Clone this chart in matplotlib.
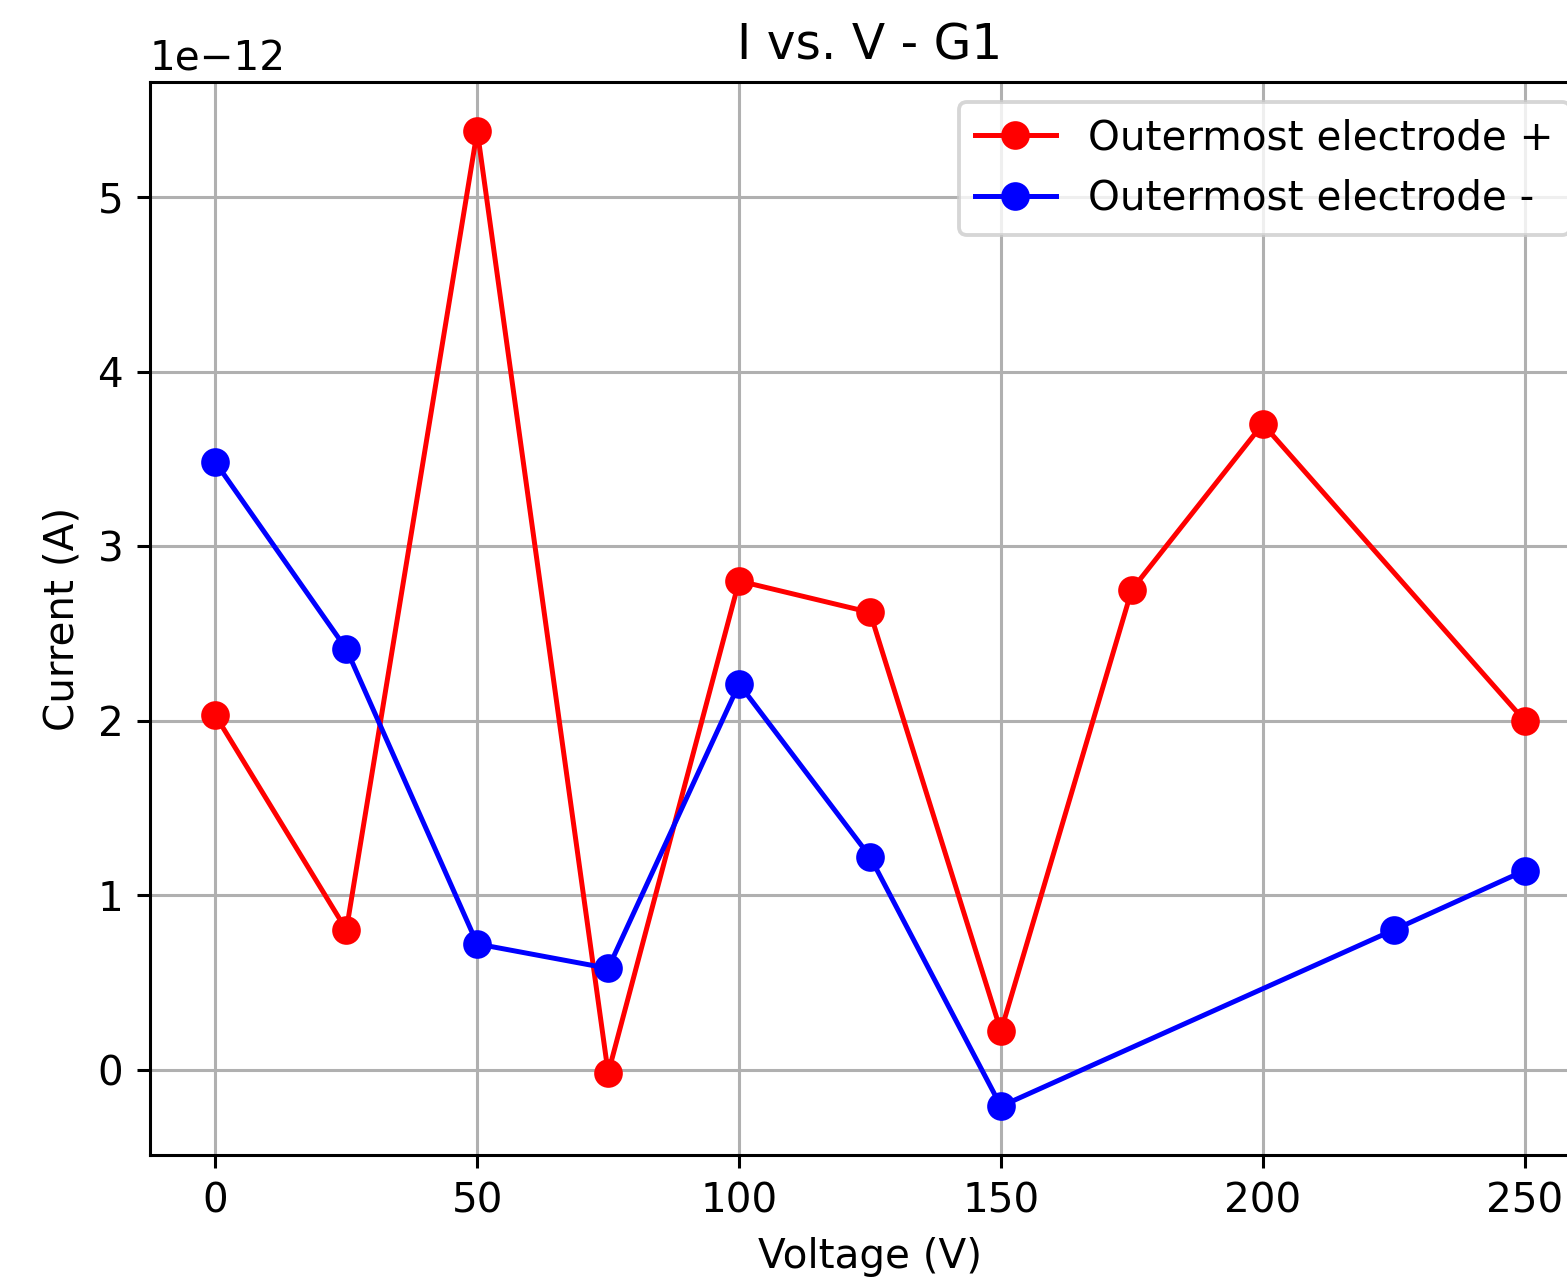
import matplotlib
matplotlib.use("Agg")
import matplotlib.pyplot as plt

# data (current in units of 1e-12 A)
v_pos = [0, 25, 50, 75, 100, 125, 150, 175, 200, 250]
i_pos = [2.03, 0.80, 5.38, -0.02, 2.80, 2.62, 0.22, 2.75, 3.70, 2.00]

v_neg = [0, 25, 50, 75, 100, 125, 150, 225, 250]
i_neg = [3.48, 2.41, 0.72, 0.58, 2.21, 1.22, -0.21, 0.80, 1.14]

scale = 1e-12

plt.rcParams["font.size"] = 10.6

fig = plt.figure(figsize=(1567 / 275, 1283 / 275), dpi=275)
# the reference is cropped on the right, so the axes run past the figure edge
ax = fig.add_axes([150 / 1567, 1 - 1155 / 1283, 1440 / 1567, 1073 / 1283])

ax.plot(v_pos, [i * scale for i in i_pos], "o-", color="red", lw=1.3, ms=6.5,
        label="Outermost electrode +")
ax.plot(v_neg, [i * scale for i in i_neg], "o-", color="blue", lw=1.3, ms=6.5,
        label="Outermost electrode -")

ax.set_title("I vs. V - G1")
ax.set_xlabel("Voltage (V)")
ax.set_ylabel("Current (A)")
ax.grid(True)
ax.legend(loc="upper right")

fig.savefig("out.png", dpi=275)
